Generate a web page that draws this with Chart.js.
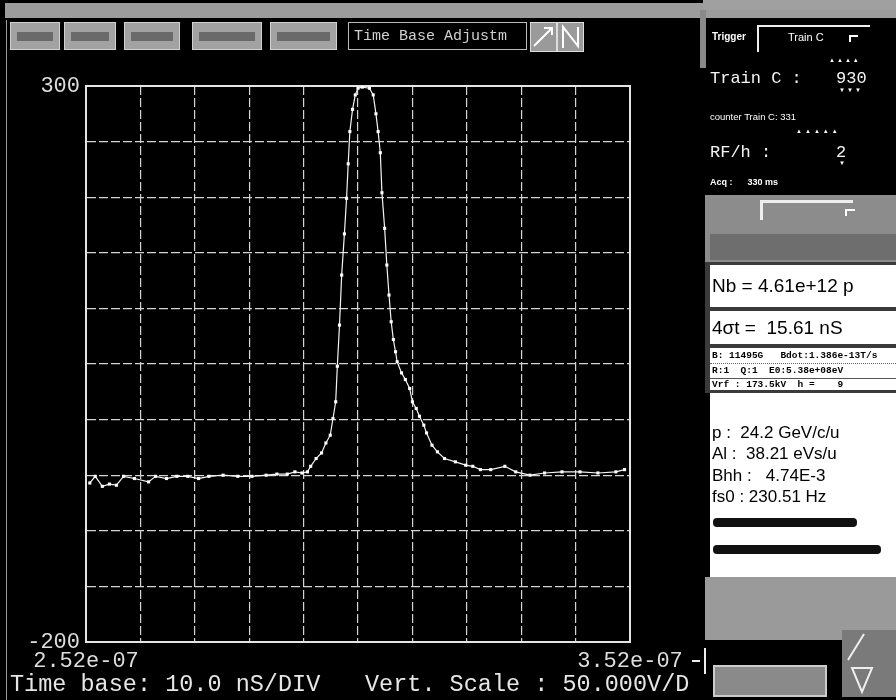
<!DOCTYPE html>
<html><head><meta charset="utf-8">
<script src="https://cdn.jsdelivr.net/npm/chart.js@4.4.1/dist/chart.umd.min.js"></script>
<style>
html,body{margin:0;padding:0;background:#000;width:896px;height:700px;overflow:hidden;font-family:"Liberation Sans",Arial,sans-serif;}
#c{position:absolute;left:0;top:0;}
.a{position:absolute;white-space:pre;}
.mono{font-family:"Liberation Mono","DejaVu Sans Mono",monospace;}
.gray{background:#8e8e8e;}
.btn{position:absolute;top:22px;height:28px;background:#a2a2a2;border:1px solid #d0d0d0;box-sizing:border-box;}
.btn i{position:absolute;left:6px;right:6px;top:9px;height:9px;background:#6a6a6a;}
.wbox{position:absolute;left:710px;width:186px;background:#fff;color:#000;}
</style></head><body>
<canvas id="c" width="700" height="700"></canvas>

<!-- top bar -->
<div class="a" style="left:5px;top:3px;width:891px;height:15px;background:#9c9c9c;"></div>
<div class="btn" style="left:10px;width:50px;"><i></i></div>
<div class="btn" style="left:64px;width:52px;"><i></i></div>
<div class="btn" style="left:124px;width:56px;"><i></i></div>
<div class="btn" style="left:192px;width:70px;"><i></i></div>
<div class="btn" style="left:270px;width:67px;"><i></i></div>
<div class="a" style="left:348px;top:22px;width:179px;height:28px;border:1px solid #bbb;box-sizing:border-box;"></div>
<div class="a mono" style="left:354px;top:28px;font-size:15px;line-height:18px;color:#d0d0d0;">Time Base Adjustm</div>
<svg class="a" style="left:530px;top:22px;" width="54" height="30">
<rect x="0.5" y="0.5" width="26" height="29" fill="#9a9a9a" stroke="#ddd"/>
<rect x="27.5" y="0.5" width="26" height="29" fill="#9a9a9a" stroke="#ddd"/>
<path d="M4 24 L22 6 M14 6 L22 6 L22 13" stroke="#fff" stroke-width="2" fill="none"/>
<path d="M33 26 L33 5 L48 24 L48 5" stroke="#fff" stroke-width="2" fill="none"/>
</svg>
<div class="a" style="left:6px;top:20px;width:1px;height:680px;background:#9a9a9a;"></div>

<!-- bottom texts -->
<div class="a mono" style="left:10px;top:672px;font-size:23.5px;line-height:26px;color:#e6e6e6;">Time base: 10.0 nS/DIV</div>
<div class="a mono" style="left:365px;top:672px;font-size:23.5px;line-height:26px;color:#e6e6e6;">Vert. Scale : 50.000V/D</div>
<div class="a" style="left:697px;top:648px;width:7px;height:26px;border-right:2px solid #eee;"></div>
<div class="a" style="left:692px;top:660px;width:8px;height:2px;background:#eee;"></div>

<!-- right panel -->
<div class="a" style="left:703px;top:0;width:193px;height:10px;background:#a0a0a0;"></div>
<div class="a" style="left:700px;top:10px;width:6px;height:58px;background:#8a8a8a;"></div>
<div class="a" style="left:712px;top:31px;font-size:10px;font-weight:bold;color:#fff;">Trigger</div>
<div class="a" style="left:757px;top:25px;width:111px;height:25px;border-top:2px solid #eee;border-left:2px solid #eee;"></div>
<div class="a" style="left:788px;top:31px;font-size:11px;color:#fff;">Train C</div>
<div class="a" style="left:849px;top:35px;width:7px;height:5px;border-top:2px solid #fff;border-left:2px solid #fff;"></div>
<div class="a" style="left:829px;top:57px;font-size:6px;color:#fff;letter-spacing:2px;">▲▲▲▲</div>
<div class="a mono" style="left:710px;top:69px;font-size:17px;line-height:20px;color:#f4f4f4;">Train C :</div>
<div class="a mono" style="left:836px;top:69px;font-size:17px;line-height:20px;color:#f4f4f4;">930</div>
<div class="a" style="left:839px;top:87px;font-size:6px;color:#fff;letter-spacing:2px;">▼▼▼</div>
<div class="a" style="left:710px;top:111px;font-size:9.5px;color:#fff;">counter Train C: 331</div>
<div class="a" style="left:796px;top:128px;font-size:6px;color:#fff;letter-spacing:3px;">▲▲▲▲▲</div>
<div class="a mono" style="left:710px;top:143px;font-size:17px;line-height:20px;color:#f4f4f4;">RF/h :</div>
<div class="a mono" style="left:836px;top:143px;font-size:17px;line-height:20px;color:#f4f4f4;">2</div>
<div class="a" style="left:839px;top:160px;font-size:6px;color:#fff;">▼</div>
<div class="a" style="left:710px;top:177px;font-size:9px;font-weight:bold;color:#fff;">Acq :      330 ms</div>
<div class="a gray" style="left:705px;top:195px;width:191px;height:67px;background:#8c8c8c;"></div>
<div class="a" style="left:760px;top:200px;width:93px;height:20px;border-top:3px solid #eee;border-left:3px solid #eee;box-sizing:border-box;"></div>
<div class="a" style="left:845px;top:209px;width:8px;height:5px;border-top:2px solid #fff;border-left:2px solid #fff;"></div>
<div class="a" style="left:710px;top:234px;width:186px;height:26px;background:#6e6e6e;"></div>
<div class="a" style="left:705px;top:262px;width:191px;height:131px;background:#3a3a3a;"></div>

<div class="wbox" style="top:265px;height:42px;"><div class="a" style="left:2px;top:10px;font-size:19px;line-height:22px;">Nb = 4.61e+12 p</div></div>
<div class="wbox" style="top:311px;height:33px;"><div class="a" style="left:2px;top:6px;font-size:19px;line-height:22px;">4σt =&nbsp; 15.61 nS</div></div>
<div class="wbox" style="top:348px;height:42px;">
 <div class="a mono" style="left:2px;top:2px;font-size:9.5px;font-weight:bold;line-height:12px;">B: 11495G   Bdot:1.386e-13T/s</div>
 <div class="a" style="left:0;top:15px;width:186px;height:0;border-top:1px dotted #666;"></div>
 <div class="a mono" style="left:2px;top:17px;font-size:9.5px;font-weight:bold;line-height:12px;">R:1  Q:1  E0:5.38e+08eV</div>
 <div class="a" style="left:0;top:30px;width:186px;height:1px;background:#555;"></div>
 <div class="a mono" style="left:2px;top:31px;font-size:9.5px;font-weight:bold;line-height:11px;">Vrf : 173.5kV  h =    9</div>
</div>
<div class="wbox" style="top:393px;height:184px;">
 <div class="a" style="left:2px;top:30px;font-size:17px;line-height:20px;">p :  24.2 GeV/c/u</div>
 <div class="a" style="left:2px;top:51px;font-size:17px;line-height:20px;">Al :  38.21 eVs/u</div>
 <div class="a" style="left:2px;top:73px;font-size:17px;line-height:20px;">Bhh :   4.74E-3</div>
 <div class="a" style="left:2px;top:94px;font-size:17px;line-height:20px;">fs0 : 230.51 Hz</div>
 <div class="a" style="left:3px;top:125px;width:144px;height:9px;background:#111;border-radius:4px;"></div>
 <div class="a" style="left:3px;top:152px;width:168px;height:9px;background:#111;border-radius:4px;"></div>
</div>
<div class="a" style="left:705px;top:577px;width:191px;height:63px;background:#9a9a9a;"></div>
<div class="a" style="left:713px;top:665px;width:114px;height:32px;background:#8a8a8a;border:2px solid #ccc;box-sizing:border-box;"></div>
<div class="a" style="left:842px;top:630px;width:54px;height:67px;background:#7a7a7a;"></div>
<svg class="a" style="left:842px;top:630px;" width="54" height="67"><path d="M6 30 L22 4 M10 38 L30 38 L20 62 Z" stroke="#eee" stroke-width="2" fill="none"/></svg>

<script>
// Sample times (ns) and trace voltages (V)
const timeNs = [252.7,253.7,255.0,256.3,257.6,258.9,260.9,263.5,264.8,266.8,268.7,270.7,272.7,274.6,277.2,279.9,282.5,285.1,287.1,289.0,290.4,291.7,292.7,293.3,294.3,295.3,296.1,296.9,297.4,297.9,298.2,298.6,299.0,299.5,299.9,300.2,300.5,301.0,301.5,302.0,302.8,304.1,304.8,305.3,305.7,306.1,306.4,306.9,307.3,307.7,308.1,308.5,308.9,309.2,310.0,310.7,311.5,312.0,312.7,313.3,314.1,314.6,315.6,316.6,317.9,319.9,321.8,323.1,324.5,326.4,329.0,331.0,333.6,336.3,339.5,342.8,346.1,349.4,351.0];
const voltage = [-57,-51,-60,-58,-59,-51,-53,-56,-51,-53,-51,-51,-53,-51,-50,-51,-51,-50,-49,-49,-47,-48,-47,-42,-35,-30,-21,-14,1,16,48,85,130,167,199,230,259,279,292,298,299,298,292,275,259,240,204,172,139,112,88,72,61,52,42,36,28,16,10,3,-5,-12,-23,-29,-35,-38,-41,-42,-45,-45,-42,-47,-50,-48,-47,-47,-48,-47,-45];
const xTickValues = [252,262,272,282,292,302,312,322,332,342,352];
const xTickLabels = ['2.52e-07','','','','','','','','','','3.52e-07'];
const yTickValues = [-200,-150,-100,-50,0,50,100,150,200,250,300];
const yTickLabels = ['-200','','','','','','','','','','300'];

const framePlugin = {
  id: 'frame',
  beforeDatasetsDraw(chart) {
    const {ctx, chartArea: a} = chart;
    ctx.save();
    ctx.strokeStyle = '#e4e4e4';
    ctx.lineWidth = 2;
    ctx.strokeRect(a.left, a.top, a.right - a.left, a.bottom - a.top);
    ctx.restore();
  }
};

const monoFont = {family: '"Liberation Mono", "DejaVu Sans Mono", monospace', size: 22};

new Chart(document.getElementById('c'), {
  type: 'line',
  data: {
    datasets: [{
      data: timeNs.map((t, i) => ({x: t, y: voltage[i]})),
      borderColor: '#f4f4f4',
      borderWidth: 1.2,
      pointRadius: 2.2,
      pointStyle: 'rect',
      pointBackgroundColor: '#ffffff',
      pointBorderWidth: 0,
      tension: 0
    }]
  },
  options: {
    responsive: false,
    animation: false,
    devicePixelRatio: 1,
    layout: {padding: {left: 0, top: 86, right: 70, bottom: 0}},
    plugins: {legend: {display: false}, tooltip: {enabled: false}},
    scales: {
      x: {
        type: 'linear', min: 252, max: 352,
        afterBuildTicks: s => { s.ticks = xTickValues.map(v => ({value: v})); },
        afterFit: s => { s.height = 58; },
        ticks: {callback: (v, i) => xTickLabels[i], color: '#dedede', font: monoFont, padding: 6, maxRotation: 0, minRotation: 0, autoSkip: false},
        grid: {color: '#d4d4d4', lineWidth: 1.2, drawTicks: false},
        border: {display: true, color: '#e4e4e4', width: 2, dash: [9, 3]}
      },
      y: {
        type: 'linear', min: -200, max: 300,
        afterBuildTicks: s => { s.ticks = yTickValues.map(v => ({value: v})); },
        afterFit: s => { s.width = 86; },
        ticks: {callback: (v, i) => yTickLabels[i], color: '#dedede', font: monoFont, padding: 6, autoSkip: false},
        grid: {color: '#d4d4d4', lineWidth: 1.2, drawTicks: false},
        border: {display: true, color: '#e4e4e4', width: 2, dash: [9, 3]}
      }
    }
  },
  plugins: [framePlugin]
});
</script>
</body></html>
